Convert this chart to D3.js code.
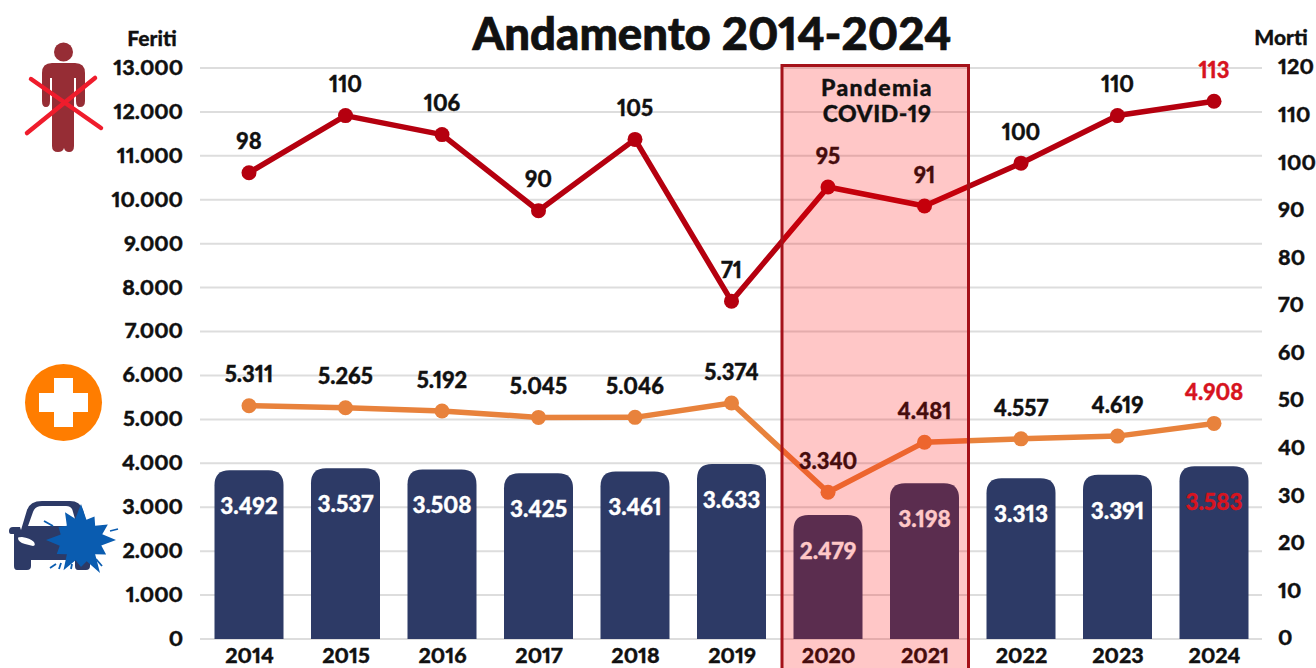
<!DOCTYPE html>
<html><head><meta charset="utf-8">
<script src="https://cdn.jsdelivr.net/npm/d3@7/dist/d3.min.js"></script>
<style>
html,body{margin:0;padding:0;background:#fff;overflow:hidden}
svg{display:block}
text{font-family:Lato,sans-serif;font-weight:900;fill:#111;font-variant-numeric:proportional-nums;font-feature-settings:"pnum" 1;paint-order:stroke}
.domain{display:none}
</style></head><body>
<svg id="c" width="1316" height="668"></svg>
<script>
const years=["2014","2015","2016","2017","2018","2019","2020","2021","2022","2023","2024"];
const incidenti=[3492,3537,3508,3425,3461,3633,2479,3198,3313,3391,3583];
const feriti=[5311,5265,5192,5045,5046,5374,3340,4481,4557,4619,4908];
const morti=[98,110,106,90,105,71,95,91,100,110,113];
const feritiTicks=[0,1000,2000,3000,4000,5000,6000,7000,8000,9000,10000,11000,12000,13000];
const mortiTicks=[0,10,20,30,40,50,60,70,80,90,100,110,120];
const pandemia=["2020","2021"];
const highlight="2024";

const svg=d3.select("#c");
const L=200,R=1262,T=68,B=639;
const FS=21.5;
const x=d3.scalePoint().domain(years).range([249,1214]);
const yF=d3.scaleLinear().domain([0,13000]).range([B,T]);
const yM=d3.scaleLinear().domain([0,120]).range([B,T]);
// bars in the picture follow their own scale, not the left axis
const yI=d3.scaleLinear().domain([-326,3633]).range([B,464]);
const it=d3.formatLocale({decimal:",",thousands:".",grouping:[3],currency:["€",""]}).format(",d");
const barW=69,rad=15;

// gridlines
svg.append("g").selectAll("line").data(feritiTicks).join("line")
 .attr("x1",L).attr("x2",R).attr("y1",d=>yF(d)).attr("y2",d=>yF(d))
 .attr("stroke","#dddddd").attr("stroke-width",2);

// axes
const ax=(g,fs)=>{g.selectAll(".tick line").remove();g.selectAll("text").attr("font-size",fs).style("fill","#111").style("stroke","#111").style("stroke-width",0.35);};
svg.append("g").attr("transform","translate(183,-0.5)")
 .call(d3.axisLeft(yF).tickValues(feritiTicks).tickFormat(it).tickSize(0).tickPadding(0)).call(ax,FS);
svg.append("g").attr("transform","translate(1278,-1)")
 .call(d3.axisRight(yM).tickValues(mortiTicks).tickFormat(d3.format("d")).tickSize(0).tickPadding(0)).call(ax,FS);
svg.append("g").attr("transform","translate(0,647.5)")
 .call(d3.axisBottom(x).tickSize(0).tickPadding(0)).call(ax,FS);

// bars
svg.append("g").selectAll("path").data(years).join("path")
 .attr("fill","#2d3a66")
 .attr("d",(d,i)=>{const x0=x(d)-barW/2,x1=x(d)+barW/2,t=yI(incidenti[i]);
  return `M${x0},${B}V${t+rad}Q${x0},${t} ${x0+rad},${t}H${x1-rad}Q${x1},${t} ${x1},${t+rad}V${B}Z`;});
svg.append("g").selectAll("text").data(years).join("text")
 .attr("x",d=>x(d)).attr("y",(d,i)=>yI(incidenti[i])+36).attr("dy","0.35em")
 .attr("text-anchor","middle").attr("font-size",FS+1)
 .style("fill",d=>d===highlight?"#d7141f":"#fff")
 .style("stroke",d=>d===highlight?"#d7141f":"#fff").style("stroke-width",0.35)
 .text((d,i)=>it(incidenti[i]));

// lines
function series(vals,scale,color,sw,r){
 const g=svg.append("g");
 g.append("path").attr("d",d3.line().x((d,i)=>x(years[i])).y(d=>scale(d))(vals))
  .attr("fill","none").attr("stroke",color).attr("stroke-width",sw).attr("stroke-linejoin","round");
 g.selectAll("circle").data(vals).join("circle")
  .attr("cx",(d,i)=>x(years[i])).attr("cy",d=>scale(d)).attr("r",r).attr("fill",color);
 g.selectAll("text").data(vals).join("text")
  .attr("x",(d,i)=>x(years[i])).attr("y",d=>scale(d)-31).attr("dy","0.35em")
  .attr("text-anchor","middle").attr("font-size",FS+0.5)
  .style("fill",(d,i)=>years[i]===highlight?"#d7141f":"#111")
  .style("stroke",(d,i)=>years[i]===highlight?"#d7141f":"#111").style("stroke-width",0.35)
  .text(d=>it(d));
}
series(feriti,yF,"#e8823c",5.5,7.5);
series(morti,yM,"#b5000f",5.5,7.5);

// title + axis names
svg.append("text").attr("x",712).attr("y",34).attr("dy","0.35em").attr("text-anchor","middle").attr("font-size",45.5).style("stroke","#111").style("stroke-width",0.7).text("Andamento 2014-2024");
svg.append("text").attr("x",152).attr("y",39).attr("dy","0.35em").attr("text-anchor","middle").attr("font-size",21).style("stroke","#111").style("stroke-width",0.3).text("Feriti");
svg.append("text").attr("x",1281).attr("y",38).attr("dy","0.35em").attr("text-anchor","middle").attr("font-size",21).style("stroke","#111").style("stroke-width",0.3).text("Morti");

// pandemic band (over everything)
const bx0=x(pandemia[0])-46,bx1=x(pandemia[1])+44;
svg.append("rect").attr("x",bx0).attr("y",65.5).attr("width",bx1-bx0).attr("height",610)
 .attr("fill","rgba(255,0,0,0.22)").attr("stroke","#a5121a").attr("stroke-width",3);
svg.append("text").attr("x",877).attr("y",96).attr("text-anchor","middle").attr("font-size",23).attr("letter-spacing",1.3).style("stroke","#111").style("stroke-width",0.35).text("Pandemia");
svg.append("text").attr("x",877).attr("y",122).attr("text-anchor","middle").attr("font-size",23).attr("letter-spacing",0.5).style("stroke","#111").style("stroke-width",0.35).text("COVID-19");

// icons
const person=svg.append("g").attr("fill","#962d35");
person.append("circle").attr("cx",63.5).attr("cy",52).attr("r",9.5);
person.append("path").attr("d","M52,63H75Q85,63 85,73V101Q85,107 80,107Q76,107 76,101V78H74V146Q74,152 69,152Q65,152 64,148Q63,152 58,152Q52,152 52,146V78H50V101Q50,107 46,107Q42,107 42,101V73Q42,63 52,63Z");
svg.append("g").attr("stroke","#ef1c2c").attr("stroke-linecap","round").attr("fill","none").call(g=>{
 g.append("line").attr("x1",31).attr("y1",79).attr("x2",101).attr("y2",128).attr("stroke-width",4.5);
 g.append("line").attr("x1",95).attr("y1",78).attr("x2",27).attr("y2",133).attr("stroke-width",4.5);
});
svg.append("circle").attr("cx",63.5).attr("cy",402.5).attr("r",38.5).attr("fill","#ff7d00");
svg.append("path").attr("fill","#fff").attr("d","M54,378H73V393H88V412H73V427H54V412H39V393H54Z");
// car
svg.append("path").attr("fill","#2d3a66").attr("fill-rule","evenodd")
 .attr("d","M21,530L27,510Q30,501 42,501H70Q80,501 83,510L90,535V566Q90,570 86,570H78Q75,570 75,566V560H31V566Q31,570 27,570H17Q14,570 14,566V534H11Q9,534 9,531Q9,527 13,527H20ZM28,526H77L73,512Q72,506 66,506H42Q35,506 33,512ZM18,538Q18,542 25,544L33,546Q36,546 34,542Q30,538 22,537Q18,537 18,538Z");
// burst
const burstR=[36,21,27,20,31,22,35,21,29,20,38,22,27,21,35,20,28,22,35,21,26,20,32,22];
svg.append("path").attr("transform","translate(81,540)").attr("fill","#0a5cb0")
 .attr("d",d3.lineRadial().angle((d,i)=>i/burstR.length*2*Math.PI).radius(d=>d).curve(d3.curveLinearClosed)(burstR));
const rays=[[44,521,53,526],[110,531,118,529],[96,559,102,566],[50,568,56,564],[61,563,59,569],[72,564,71,569]];
svg.append("g").selectAll("line").data(rays).join("line")
 .attr("x1",d=>d[0]).attr("y1",d=>d[1]).attr("x2",d=>d[2]).attr("y2",d=>d[3]).attr("stroke","#0a5cb0").attr("stroke-width",1.8);
</script></body></html>
